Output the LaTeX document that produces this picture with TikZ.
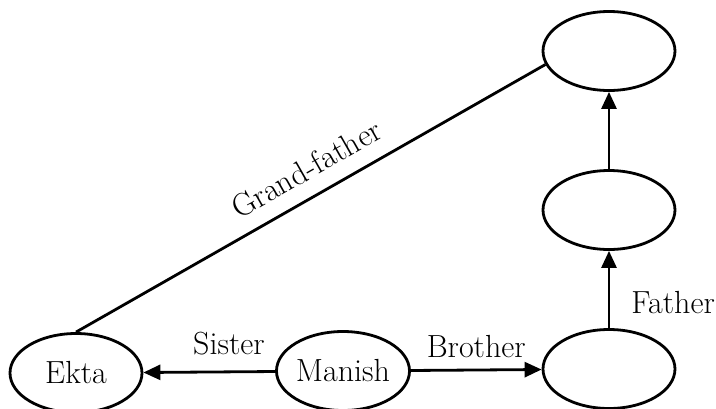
\documentclass[tikz,border=0pt]{standalone}
\usetikzlibrary{shapes.geometric,arrows.meta}

\tikzset{
  person/.style={ellipse, draw, line width=2.8pt, minimum width=132pt,
    minimum height=79pt, inner sep=0pt, font=\fontsize{32}{36}\selectfont},
  rel/.style={line width=2.8pt, -{Triangle[length=17pt,width=15pt]}},
  tie/.style={line width=2.8pt},
  tag/.style={inner sep=0pt, font=\fontsize{32}{36}\selectfont}
}

\begin{document}
\begin{tikzpicture}[x=1pt,y=-1pt]
  \useasboundingbox (0,0) rectangle (716,408);

  % family members
  \node[person] (ekta)   at (76,373)  {Ekta};
  \node[person] (manish) at (343,371) {Manish};
  \node[person] (bro)    at (609,369) {};
  \node[person] (dad)    at (609,210) {};
  \node[person] (gpa)    at (609,51)  {};

  % relations
  \draw[rel] (manish) -- node[tag, pos=0.35, above=15pt] (sis) {Sister} (ekta);
  \draw[rel] (manish) -- node[tag, midway, above=11pt] (brl) {Brother} (bro);
  \draw[rel] (bro) -- node[tag, pos=0.33, right=21pt] (fal) {Father} (dad);
  \draw[rel] (dad) -- (gpa);
  \draw[tie] (ekta.north) -- node[tag, pos=0.52, sloped, above=15pt] (gfl) {Grand-father} (gpa.192);
\end{tikzpicture}
\end{document}
